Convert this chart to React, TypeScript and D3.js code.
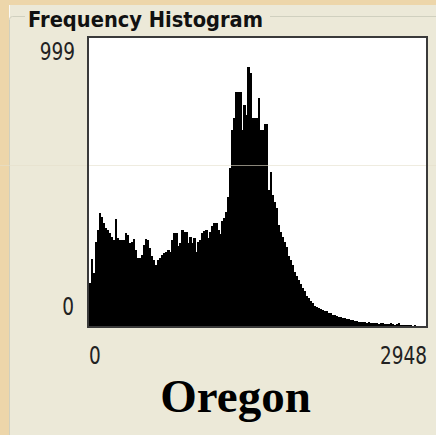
import React from "react";
import * as d3 from "d3";

const title = "Frequency Histogram";
const subtitle = "Oregon";
const xDomain = [0, 2948];
const yDomain = [0, 999];
const xTickLabels = ["0", "2948"];
const yTickLabels = ["0", "999"];

// counts per bin (168 equal bins across 0..2948)
const counts = [
  149, 232, 184, 291, 333, 392, 378, 357, 340, 333,
  323, 309, 298, 371, 305, 298, 298, 298, 323, 316,
  288, 291, 302, 264, 236, 236, 246, 281, 302, 298,
  271, 243, 229, 212, 229, 236, 246, 253, 257, 264,
  257, 298, 323, 323, 278, 288, 333, 326, 326, 288,
  309, 288, 305, 257, 291, 298, 323, 330, 333, 305,
  326, 347, 357, 357, 333, 319, 364, 375, 395, 448,
  548, 680, 722, 812, 812, 812, 680, 767, 732, 898,
  878, 722, 722, 722, 791, 680, 680, 701, 701, 472,
  534, 454, 430, 409, 350, 326, 309, 291, 274, 243,
  229, 212, 187, 173, 160, 146, 132, 121, 104, 97,
  87, 80, 69, 66, 62, 59, 56, 52, 52, 45,
  45, 38, 38, 35, 31, 31, 28, 28, 24, 24,
  21, 21, 17, 17, 14, 14, 14, 14, 10, 14,
  10, 10, 10, 10, 7, 10, 10, 7, 7, 7,
  10, 7, 3, 7, 10, 3, 3, 3, 3, 3,
  3, 0, 3, 0, 0, 0, 0, 0,
];

const W = 436;
const H = 435;
const panel = "#ECE9D8";
const tan = "#EDD6AA";

function Num({ x, y, anchor, children }: { x: number; y: number; anchor: string; children: string }) {
  return (
    <text
      transform={`translate(${x},${y}) scale(1,1.3)`}
      textAnchor={anchor}
      fontFamily="'DejaVu Sans', sans-serif"
      fontSize={18.5}
      fill="#222"
    >
      {children}
    </text>
  );
}

export default function App() {
  const plot = { left: 89, right: 426, top: 38, bottom: 326 };
  const x = d3.scaleLinear().domain(xDomain).range([plot.left, plot.right]);
  const y = d3.scaleLinear().domain(yDomain).range([plot.bottom, plot.top]);
  const binW = (xDomain[1] - xDomain[0]) / counts.length;

  return (
    <svg
      width={W}
      height={H}
      style={{ position: "absolute", left: 0, top: 0 }}
    >
      <rect x={0} y={0} width={W} height={H} fill={tan} />
      <rect x={9} y={5} width={W - 9} height={H - 5} fill={panel} />
      <line x1={9.5} y1={5} x2={9.5} y2={H} stroke="#FBFAF6" strokeWidth={1} />
      {/* group box */}
      <rect
        x={9.5}
        y={16.5}
        width={W + 10}
        height={H + 10}
        rx={3}
        fill="none"
        stroke="#D0D0BF"
        strokeWidth={1}
      />
      <rect x={25} y={8} width={245} height={20} fill={panel} />
      <text
        x={28}
        y={27}
        fontFamily="'DejaVu Sans', sans-serif"
        fontWeight="bold"
        fontSize={21}
        textLength={235}
        lengthAdjust="spacingAndGlyphs"
        fill="#111"
      >
        {title}
      </text>

      {/* plot area */}
      <rect
        x={plot.left}
        y={plot.top}
        width={plot.right - plot.left}
        height={plot.bottom - plot.top}
        fill="#FFFFFF"
      />
      <g shapeRendering="crispEdges">
        {counts.map((c, i) => {
          const x0 = x(i * binW);
          const x1 = x((i + 1) * binW);
          return (
            <rect
              key={i}
              x={x0}
              y={y(c)}
              width={x1 - x0 + 0.3}
              height={plot.bottom - y(c)}
              fill="#000"
            />
          );
        })}
      </g>
      <line
        x1={0}
        x2={W}
        y1={165.5}
        y2={165.5}
        stroke="#E6E0CC"
        strokeWidth={1}
        opacity={0.6}
      />
      <rect
        x={plot.left - 1}
        y={plot.top - 1}
        width={plot.right - plot.left + 2}
        height={plot.bottom - plot.top + 2}
        fill="none"
        stroke="#3A3A3A"
        strokeWidth={2}
      />

      {/* y labels */}
      <Num x={75} y={60} anchor="end">{yTickLabels[1]}</Num>
      <Num x={74} y={315} anchor="end">{yTickLabels[0]}</Num>

      {/* x labels */}
      <Num x={x(xDomain[0])} y={364} anchor="start">{xTickLabels[0]}</Num>
      <Num x={x(xDomain[1]) + 1} y={364} anchor="end">{xTickLabels[1]}</Num>

      <text
        x={235.5}
        y={412}
        textAnchor="middle"
        fontFamily="'Liberation Serif', serif"
        fontWeight="bold"
        fontSize={47}
        fill="#000"
      >
        {subtitle}
      </text>
    </svg>
  );
}
